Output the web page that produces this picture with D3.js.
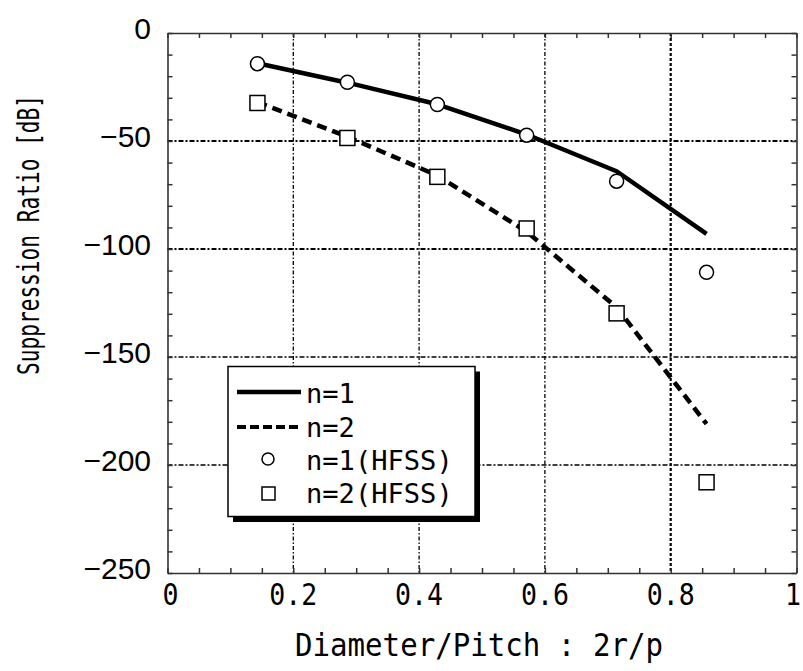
<!DOCTYPE html>
<html>
<head>
<meta charset="utf-8">
<script src="https://cdn.jsdelivr.net/npm/d3@7"></script>
<style>
  html, body { margin: 0; padding: 0; background: #fff; }
  svg { display: block; }
</style>
</head>
<body>
<svg id="chart" width="803" height="671"></svg>
<script>
// ---- data ----
const xValues = [0.143, 0.286, 0.429, 0.571, 0.714, 0.857];
const n1Theory = [-14, -23, -33, -47, -64, -93];
const n2Theory = [-32, -48, -66, -92, -127, -181];
const n1HFSS = [-14.2, -22.8, -33.1, -47.3, -68.6, -110.8];
const n2HFSS = [-32.4, -48.6, -66.6, -90.5, -129.8, -208];
const xTickValues = [0, 0.2, 0.4, 0.6, 0.8, 1];
const xTickLabels = ["0", "0.2", "0.4", "0.6", "0.8", "1"];
const yTickValues = [0, -50, -100, -150, -200, -250];
const yTickLabels = ["0", "\u221250", "\u2212100", "\u2212150", "\u2212200", "\u2212250"];
const xGrid = [0.2, 0.4, 0.6, 0.8];
const yGrid = [-50, -100, -150, -200];
const legendLabels = ["n=1", "n=2", "n=1(HFSS)", "n=2(HFSS)"];
const xTitle = "Diameter/Pitch : 2r/p";
const yTitle = "Suppression Ratio [dB]";

// ---- layout ----
const L = 167.5, R = 796.5, T = 33, B = 573;
const svg = d3.select("#chart");
const x = d3.scaleLinear().domain([0, 1]).range([L, R]);
const y = d3.scaleLinear().domain([0, -250]).range([T, B]);
const mono = "'DejaVu Sans Mono', 'Liberation Mono', monospace";

// ---- grid ----
const grid = svg.append("g");
grid.selectAll("line.gx").data(xGrid).join("line")
  .attr("x1", d => x(d)).attr("x2", d => x(d)).attr("y1", T).attr("y2", B)
  .attr("stroke", "#000")
  .attr("stroke-width", d => d === 0.8 ? 2.2 : 1.3)
  .attr("stroke-dasharray", d => d === 0.8 ? "3,2" : "4,2,1.5,2");
grid.selectAll("line.gy").data(yGrid).join("line")
  .attr("x1", L).attr("x2", R).attr("y1", d => y(d)).attr("y2", d => y(d))
  .attr("stroke", "#000")
  .attr("stroke-width", d => (d === -50 || d === -100) ? 1.8 : 1.3)
  .attr("stroke-dasharray", "5,2,2,2");

// ---- axes frame & ticks (inward) ----
const minorX = d3.range(0, 1.0001, 0.05).map(v => +v.toFixed(2));
const minorY = d3.range(0, -250.001, -10);
function styleAxis(g) {
  g.select(".domain").attr("stroke", "#333").attr("stroke-width", 1.6);
  g.selectAll(".tick line").attr("stroke", "#333").attr("stroke-width", 1.5);
  g.selectAll(".tick text").remove();
}
svg.append("g").attr("transform", `translate(0,${B})`)
  .call(d3.axisBottom(x).tickValues(minorX).tickSize(-5).tickSizeOuter(0).tickFormat(""))
  .call(styleAxis);
svg.append("g").attr("transform", `translate(0,${T})`)
  .call(d3.axisTop(x).tickValues(minorX).tickSize(-5).tickSizeOuter(0).tickFormat(""))
  .call(styleAxis);
svg.append("g").attr("transform", `translate(${L},0)`)
  .call(d3.axisLeft(y).tickValues(minorY).tickSize(-5).tickSizeOuter(0).tickFormat(""))
  .call(styleAxis);
svg.append("g").attr("transform", `translate(${R},0)`)
  .call(d3.axisRight(y).tickValues(minorY).tickSize(-5).tickSizeOuter(0).tickFormat(""))
  .call(styleAxis);

// ---- tick labels ----
svg.append("g").selectAll("text").data(xTickValues).join("text")
  .attr("x", d => d === 1 ? 801 : x(d) + (d === 0 ? 3 : 0)).attr("y", 605)
  .attr("text-anchor", d => d === 1 ? "end" : "middle")
  .attr("font-family", mono).attr("font-size", 30).attr("fill", "#000")
  .text((d, i) => xTickLabels[i])
  .each(function(d, i) {
    d3.select(this).attr("textLength", xTickLabels[i].length * 16).attr("lengthAdjust", "spacingAndGlyphs");
  });
svg.append("g").selectAll("text").data(yTickValues).join("text")
  .attr("x", 151).attr("y", d => y(d) + 6)
  .attr("text-anchor", "end")
  .attr("font-family", "'Liberation Sans', Arial, sans-serif").attr("font-size", 30).attr("fill", "#000")
  .text((d, i) => yTickLabels[i]);

// ---- axis titles ----
svg.append("text")
  .attr("x", 479).attr("y", 656)
  .attr("text-anchor", "middle")
  .attr("font-family", mono).attr("font-size", 32).attr("fill", "#000")
  .attr("textLength", 368).attr("lengthAdjust", "spacingAndGlyphs")
  .text(xTitle);
svg.append("text")
  .attr("transform", "translate(39,235) rotate(-90) scale(0.705,1)")
  .attr("text-anchor", "middle")
  .attr("font-family", mono).attr("font-size", 30).attr("fill", "#000")
  .text(yTitle);

// ---- lines ----
const line = d3.line().x(d => x(d[0])).y(d => y(d[1]));
svg.append("path")
  .datum(xValues.map((v, i) => [v, n1Theory[i]]))
  .attr("d", line).attr("fill", "none").attr("stroke", "#000")
  .attr("stroke-width", 4.5).attr("stroke-linejoin", "round");
svg.append("path")
  .datum(xValues.map((v, i) => [v, n2Theory[i]]))
  .attr("d", line).attr("fill", "none").attr("stroke", "#000")
  .attr("stroke-width", 4.5).attr("stroke-dasharray", "10,6");

// ---- markers ----
svg.append("g").selectAll("circle").data(xValues).join("circle")
  .attr("cx", d => x(d)).attr("cy", (d, i) => y(n1HFSS[i])).attr("r", 7)
  .attr("fill", "#fff").attr("stroke", "#000").attr("stroke-width", 1.5);
const sq = 15;
svg.append("g").selectAll("rect").data(xValues).join("rect")
  .attr("x", d => x(d) - sq / 2).attr("y", (d, i) => y(n2HFSS[i]) - sq / 2)
  .attr("width", sq).attr("height", sq)
  .attr("fill", "#fff").attr("stroke", "#000").attr("stroke-width", 1.5);

// ---- legend ----
const lg = svg.append("g");
const bx = 228, by = 366.5, bw = 247, bh = 150;
lg.append("rect").attr("x", bx + 5).attr("y", by + 5).attr("width", bw).attr("height", bh + 0.5).attr("fill", "#000");
lg.append("rect").attr("x", bx).attr("y", by).attr("width", bw).attr("height", bh)
  .attr("fill", "#fff").attr("stroke", "#000").attr("stroke-width", 1.5);
const rowY = [403, 437, 470, 503];
lg.append("line").attr("x1", 237).attr("x2", 301).attr("y1", 392).attr("y2", 392)
  .attr("stroke", "#000").attr("stroke-width", 4.5);
lg.append("line").attr("x1", 237).attr("x2", 301).attr("y1", 427).attr("y2", 427)
  .attr("stroke", "#000").attr("stroke-width", 4).attr("stroke-dasharray", "9,4");
lg.append("circle").attr("cx", 268).attr("cy", 459).attr("r", 6)
  .attr("fill", "#fff").attr("stroke", "#000").attr("stroke-width", 1.5);
lg.append("rect").attr("x", 262).attr("y", 487).attr("width", 13).attr("height", 13)
  .attr("fill", "#fff").attr("stroke", "#000").attr("stroke-width", 1.5);
lg.selectAll("text").data(legendLabels).join("text")
  .attr("x", 306).attr("y", (d, i) => rowY[i])
  .attr("font-family", mono).attr("font-size", 27).attr("fill", "#000")
  .attr("textLength", d => d.length * 16.3).attr("lengthAdjust", "spacingAndGlyphs")
  .text(d => d);
</script>
</body>
</html>
